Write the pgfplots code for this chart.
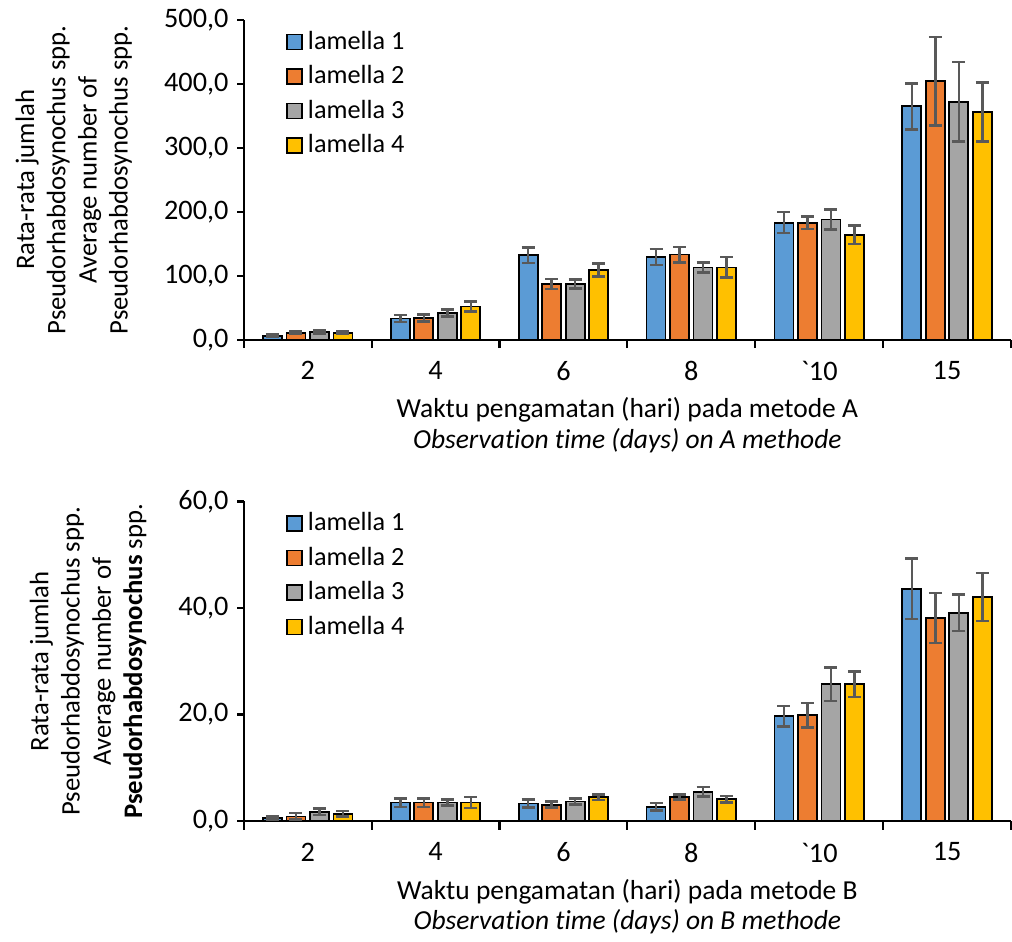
\documentclass[border=0pt]{standalone}
\usepackage{fontspec}
\setmainfont{Carlito}[Ligatures=NoCommon]
\usepackage{pgfplots}
\pgfplotsset{compat=1.18}

\definecolor{cA}{HTML}{5B9BD5}
\definecolor{cB}{HTML}{ED7D31}
\definecolor{cC}{HTML}{A5A5A5}
\definecolor{cD}{HTML}{FFC000}
\definecolor{errc}{HTML}{595959}

\pgfplotsset{
  barchart/.style={
    width=307.2pt, height=128pt, scale only axis,
    ybar=1.8pt, bar width=7.6pt,
    axis lines=left, axis line style={-, line width=0.9pt, black},
    xmin=-0.5, xmax=5.5,
    xtick={0,...,5},
    xticklabels={2,4,6,8,\textasciigrave10,15},
    minor xtick={-0.5,0.5,...,5.5},
    major x tick style={draw=none},
    minor x tick style={line width=0.9pt, black},
    minor tick length=3.4pt,
    major tick length=2.6pt,
    y tick style={line width=0.9pt, black},
    tick align=outside,
    ymin=0,
    tick label style={font=\fontsize{11.3}{13}\selectfont},
    yticklabel style={/pgf/number format/.cd, fixed, fixed zerofill, precision=1, use comma, assume math mode=true},
    xticklabel style={yshift=-2.5pt},
    ylabel style={align=center, yshift=6pt, font=\fontsize{10.7}{12.5}\selectfont},
    xlabel style={align=center, yshift=0pt, font=\fontsize{11}{12.2}\selectfont},
    legend style={draw=none, fill=none, at={(0.045,0.998)}, anchor=north west,
      row sep=1.0pt, font=\fontsize{10.5}{12.6}\selectfont},
    legend cell align=left,
    legend image code/.code={\draw[#1, line width=0.7pt] (0pt,-3pt) rectangle (6pt,3pt);},
    error bars/y dir=both, error bars/y explicit,
    error bars/error bar style={errc, line width=1pt},
    error bars/error mark options={errc, rotate=90, mark size=2.6pt, line width=1pt},
  },
  l1/.style={fill=cA, draw=black, line width=0.7pt},
  l2/.style={fill=cB, draw=black, line width=0.7pt},
  l3/.style={fill=cC, draw=black, line width=0.7pt},
  l4/.style={fill=cD, draw=black, line width=0.7pt},
}

\begin{document}
\begin{tikzpicture}
  % metode A
  \begin{axis}[barchart, ymax=500, ytick={0,100,...,500},
    ylabel={Rata-rata jumlah\\Pseudorhabdosynochus spp.\\Average number of\\Pseudorhabdosynochus spp.},
    xlabel={Waktu pengamatan (hari) pada metode A\\\textit{Observation time (days) on A methode}}]
    \addplot[l1] coordinates {(0,6) +- (0,2) (1,33) +- (0,5.5) (2,132) +- (0,12) (3,129) +- (0,12.5) (4,183) +- (0,16.5) (5,365) +- (0,36)};
    \addplot[l2] coordinates {(0,11) +- (0,2) (1,34) +- (0,5.5) (2,87) +- (0,8) (3,133) +- (0,12) (4,183) +- (0,10) (5,404) +- (0,69)};
    \addplot[l3] coordinates {(0,12) +- (0,2.5) (1,42) +- (0,5.5) (2,87) +- (0,7) (3,113) +- (0,8) (4,188) +- (0,15.5) (5,372) +- (0,62)};
    \addplot[l4] coordinates {(0,11) +- (0,2) (1,52) +- (0,8) (2,109) +- (0,10.5) (3,113) +- (0,16) (4,164) +- (0,14.5) (5,356) +- (0,46)};
    \legend{lamella 1,lamella 2,lamella 3,lamella 4}
  \end{axis}
  % metode B
  \begin{axis}[barchart, at={(0,-192.8pt)}, ymax=60, ytick={0,20,...,60},
    ylabel={Rata-rata jumlah\\Pseudorhabdosynochus spp.\\Average number of\\\textbf{Pseudorhabdosynochus} spp.},
    xlabel={Waktu pengamatan (hari) pada metode B\\\textit{Observation time (days) on B methode}}]
    \addplot[l1] coordinates {(0,0.6) +- (0,0.3) (1,3.5) +- (0,0.8) (2,3.3) +- (0,0.75) (3,2.7) +- (0,0.7) (4,19.7) +- (0,1.9) (5,43.6) +- (0,5.7)};
    \addplot[l2] coordinates {(0,0.9) +- (0,0.6) (1,3.5) +- (0,0.8) (2,3.1) +- (0,0.55) (3,4.55) +- (0,0.5) (4,19.9) +- (0,2.3) (5,38.1) +- (0,4.7)};
    \addplot[l3] coordinates {(0,1.75) +- (0,0.6) (1,3.5) +- (0,0.6) (2,3.7) +- (0,0.55) (3,5.5) +- (0,0.9) (4,25.7) +- (0,3.1) (5,39.1) +- (0,3.4)};
    \addplot[l4] coordinates {(0,1.4) +- (0,0.55) (1,3.5) +- (0,1.0) (2,4.5) +- (0,0.55) (3,4.1) +- (0,0.6) (4,25.7) +- (0,2.4) (5,42.1) +- (0,4.5)};
    \legend{lamella 1,lamella 2,lamella 3,lamella 4}
  \end{axis}
  \pgfresetboundingbox
  \path[use as bounding box] (-97.6pt,-240.8pt) rectangle (307.6pt,136pt);
\end{tikzpicture}
\end{document}
